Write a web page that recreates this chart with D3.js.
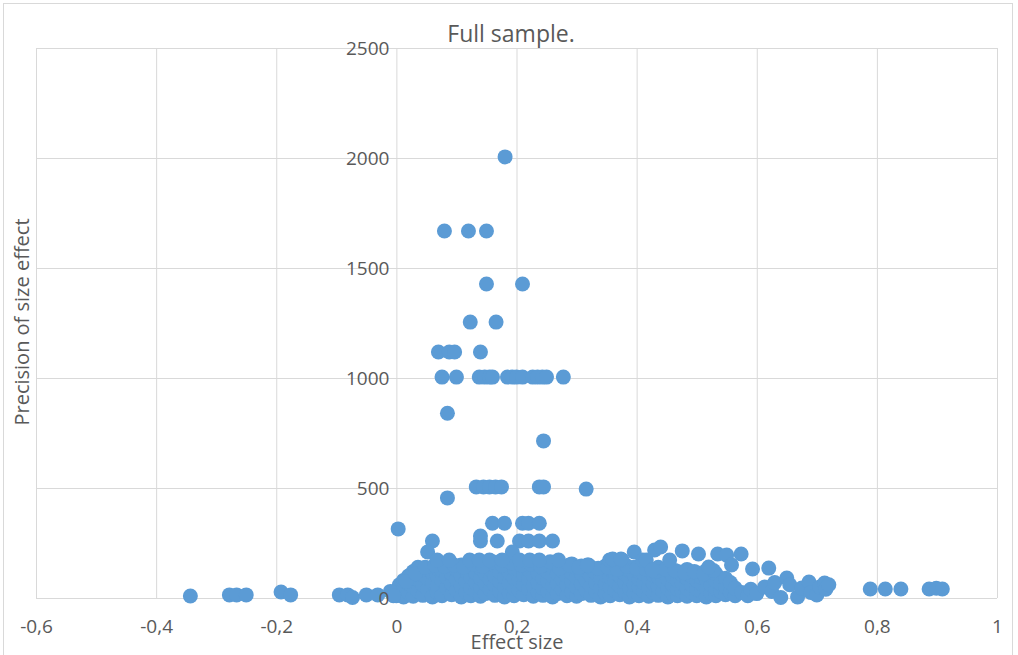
<!DOCTYPE html>
<html>
<head>
<meta charset="utf-8">
<script src="https://cdn.jsdelivr.net/npm/d3@7"></script>
<style>
  body { margin: 0; background: #fff; }
  svg { display: block; font-family: "Open Sans", sans-serif; }
</style>
</head>
<body>
<svg width="1018" height="655"></svg>
<script>
// Данные: точки с высокой точностью (разреженные, над основной массой)
const highX = [0.181, 0.080, 0.120, 0.150, 0.150, 0.210, 0.123, 0.166,
    0.070, 0.088, 0.097, 0.140,
    0.076, 0.100, 0.138, 0.147, 0.155, 0.160, 0.185, 0.193, 0.200, 0.210,
    0.227, 0.235, 0.243, 0.250, 0.278,
    0.085, 0.245,
    0.133, 0.145, 0.155, 0.165, 0.175, 0.238, 0.245, 0.316, 0.085];
const highY = [2005, 1668, 1668, 1668, 1427, 1427, 1254, 1254,
    1118, 1118, 1118, 1118,
    1004, 1004, 1004, 1004, 1004, 1004, 1004, 1004, 1004, 1004,
    1004, 1004, 1004, 1004, 1004,
    840, 714,
    505, 505, 505, 505, 505, 505, 505, 495, 455];

// Средний ярус (примерно 130-340)
const midX = [0.003, 0.160, 0.180, 0.210, 0.220, 0.238,
    0.060, 0.140, 0.168, 0.205, 0.220, 0.238, 0.260, 0.140,
    0.052, 0.193, 0.396, 0.430, 0.440, 0.476, 0.503, 0.535, 0.550, 0.574,
    0.068, 0.088, 0.122, 0.138, 0.155, 0.176, 0.205, 0.222, 0.238, 0.270,
    0.318, 0.355, 0.376, 0.360, 0.374, 0.410, 0.416, 0.426, 0.455,
    0.520, 0.558, 0.593, 0.620];
const midY = [314, 340, 340, 340, 340, 340,
    259, 259, 259, 259, 259, 259, 259, 282,
    209, 209, 209, 218, 232, 214, 200, 200, 195, 200,
    173, 173, 173, 173, 173, 173, 173, 173, 173, 173,
    150, 173, 173, 177, 177, 173, 173, 127, 173,
    141, 150, 132, 136];

// Основная масса у нуля (0 .. 0.57)
const bandX = [
    0.000, 0.000, 0.005, 0.005, 0.012, 0.012, 0.012, 0.020, 0.020, 0.020,
    0.028, 0.028, 0.028, 0.036, 0.036, 0.036, 0.044, 0.044, 0.044,
    0.052, 0.052, 0.052, 0.060, 0.060, 0.060, 0.068, 0.068, 0.068, 0.068,
    0.076, 0.076, 0.076, 0.084, 0.084, 0.084, 0.092, 0.092, 0.092,
    0.100, 0.100, 0.100, 0.108, 0.108, 0.108, 0.108, 0.116, 0.116, 0.116,
    0.124, 0.124, 0.124, 0.124, 0.132, 0.132, 0.132, 0.132,
    0.140, 0.140, 0.140, 0.140, 0.148, 0.148, 0.148, 0.148,
    0.156, 0.156, 0.156, 0.164, 0.164, 0.164, 0.164,
    0.172, 0.172, 0.172, 0.172, 0.180, 0.180, 0.180, 0.180,
    0.188, 0.188, 0.188, 0.188, 0.196, 0.196, 0.196, 0.196,
    0.204, 0.204, 0.204, 0.204, 0.212, 0.212, 0.212, 0.212,
    0.220, 0.220, 0.220, 0.220, 0.228, 0.228, 0.228, 0.228,
    0.236, 0.236, 0.236, 0.236, 0.244, 0.244, 0.244, 0.244,
    0.252, 0.252, 0.252, 0.252, 0.260, 0.260, 0.260, 0.260,
    0.268, 0.268, 0.268, 0.268, 0.276, 0.276, 0.276,
    0.284, 0.284, 0.284, 0.284, 0.292, 0.292, 0.292, 0.292,
    0.300, 0.300, 0.300, 0.300, 0.308, 0.308, 0.308, 0.308,
    0.316, 0.316, 0.316, 0.324, 0.324, 0.324, 0.324,
    0.332, 0.332, 0.332, 0.340, 0.340, 0.340, 0.340,
    0.348, 0.348, 0.348, 0.348, 0.356, 0.356, 0.356, 0.356,
    0.364, 0.364, 0.364, 0.372, 0.372, 0.372, 0.372,
    0.380, 0.380, 0.380, 0.388, 0.388, 0.388, 0.388,
    0.396, 0.396, 0.396, 0.396, 0.404, 0.404, 0.404, 0.404,
    0.412, 0.412, 0.412, 0.412, 0.420, 0.420, 0.420, 0.420,
    0.428, 0.428, 0.428, 0.436, 0.436, 0.436, 0.436,
    0.444, 0.444, 0.444, 0.452, 0.452, 0.452, 0.452,
    0.460, 0.460, 0.460, 0.468, 0.468, 0.468, 0.468,
    0.476, 0.476, 0.476, 0.484, 0.484, 0.484, 0.484,
    0.492, 0.492, 0.492, 0.500, 0.500, 0.500, 0.500,
    0.508, 0.508, 0.508, 0.516, 0.516, 0.516, 0.516,
    0.524, 0.524, 0.524, 0.532, 0.532, 0.532, 0.532,
    0.540, 0.540, 0.548, 0.548, 0.548, 0.556, 0.556, 0.564, 0.564,
    0.016, 0.032, 0.048, 0.064, 0.080, 0.096, 0.112, 0.128, 0.144, 0.160,
    0.176, 0.192, 0.208, 0.224, 0.240, 0.256, 0.272, 0.288, 0.304, 0.320,
    0.336, 0.352, 0.368, 0.384, 0.400, 0.416, 0.432, 0.448, 0.464, 0.480,
    0.496, 0.512, 0.528];
const bandY = [
    10, 35, 60, 20, 5, 45, 80, 25, 65, 100,
    8, 50, 120, 30, 85, 140, 12, 60, 105,
    40, 90, 130, 5, 70, 115, 25, 55, 100, 135,
    10, 80, 125, 45, 95, 145, 15, 65, 110,
    35, 85, 130, 5, 55, 100, 150, 25, 75, 120,
    10, 45, 95, 140, 30, 70, 115, 160,
    8, 50, 90, 135, 20, 65, 110, 155,
    40, 85, 130, 12, 60, 100, 150,
    30, 75, 120, 165, 5, 50, 95, 140,
    22, 70, 115, 160, 10, 45, 90, 135,
    35, 80, 125, 170, 15, 60, 105, 150,
    40, 85, 130, 165, 8, 55, 100, 145,
    25, 70, 115, 160, 12, 45, 90, 135,
    30, 75, 120, 155, 5, 55, 100, 145,
    20, 65, 110, 150, 40, 85, 125,
    10, 60, 100, 140, 28, 75, 115, 155,
    8, 50, 95, 135, 20, 65, 110, 145,
    35, 80, 125, 12, 55, 100, 140,
    30, 70, 115, 5, 45, 90, 130,
    22, 65, 105, 145, 10, 50, 95, 130,
    35, 75, 115, 15, 55, 100, 135,
    30, 70, 110, 5, 45, 90, 125,
    20, 60, 105, 140, 10, 50, 85, 120,
    30, 70, 110, 150, 8, 45, 90, 130,
    25, 65, 105, 12, 50, 95, 140,
    30, 75, 115, 5, 45, 85, 125,
    20, 60, 100, 10, 40, 80, 120,
    28, 65, 105, 8, 45, 90, 130,
    25, 60, 100, 10, 40, 80, 115,
    30, 65, 95, 5, 45, 85, 125,
    20, 60, 100, 10, 40, 75, 110,
    30, 65, 15, 50, 90, 25, 70, 10, 45,
    75, 110, 140, 150, 145, 150, 140, 155, 145, 165,
    150, 160, 150, 155, 145, 165, 135, 150, 140, 150,
    135, 140, 130, 145, 135, 130, 120, 130, 125, 115,
    120, 110, 125];

// Правый хвост и отрицательные значения
const tailX = [0.575, 0.585, 0.590, 0.600, 0.613, 0.625, 0.630, 0.640, 0.650,
    0.655, 0.668, 0.675, 0.687, 0.690, 0.700, 0.705, 0.713, 0.715, 0.720,
    0.789, 0.814, 0.840, 0.887, 0.899, 0.909,
    -0.343, -0.278, -0.266, -0.250, -0.192, -0.176,
    -0.095, -0.081, -0.073, -0.050, -0.031, -0.010, -0.005];
const tailY = [25, 10, 40, 20, 50, 30, 70, 2, 91,
    60, 5, 45, 73, 25, 14, 50, 68, 40, 60,
    41, 41, 41, 41, 44, 41,
    9, 14, 14, 14, 27, 14,
    14, 14, 2, 14, 14, 30, 10];

const xTicks = [-0.6, -0.4, -0.2, 0, 0.2, 0.4, 0.6, 0.8, 1];
const yTicks = [0, 500, 1000, 1500, 2000, 2500];

const svg = d3.select("svg");
const area = { left: 36, right: 997, top: 48, bottom: 598 };
const textColor = "#595959";
const gridColor = "#d9d9d9";

// Рамка всей диаграммы
svg.append("rect")
    .attr("x", 3.5).attr("y", 3.5)
    .attr("width", 1009).attr("height", 670)
    .attr("fill", "none").attr("stroke", gridColor);

const scX = d3.scaleLinear().domain([-0.6, 1]).range([area.left, area.right]);
const scY = d3.scaleLinear().domain([0, 2500]).range([area.bottom, area.top]);

// Сетка
svg.append("g").selectAll("line.gx").data(xTicks).enter().append("line")
    .attr("x1", d => scX(d) + 0.5).attr("x2", d => scX(d) + 0.5)
    .attr("y1", area.top).attr("y2", area.bottom)
    .attr("stroke", gridColor);
svg.append("g").selectAll("line.gy").data(yTicks).enter().append("line")
    .attr("x1", area.left).attr("x2", area.right)
    .attr("y1", d => scY(d) + 0.5).attr("y2", d => scY(d) + 0.5)
    .attr("stroke", gridColor);

// Подписи оси X
const fmt = d => String(d).replace(".", ",");
const axisX = d3.axisBottom(scX).tickValues(xTicks).tickFormat(fmt).tickSize(0).tickPadding(22);
const gX = svg.append("g").attr("transform", `translate(0, ${area.bottom})`).call(axisX);
gX.select(".domain").remove();
gX.selectAll("text").attr("fill", textColor).style("font-size", "19px")
    .style("font-family", "'Open Sans', sans-serif");

// Точки
const points = [];
bandX.forEach((v, i) => points.push([v, bandY[i]]));
tailX.forEach((v, i) => points.push([v, tailY[i]]));
midX.forEach((v, i) => points.push([v, midY[i]]));
highX.forEach((v, i) => points.push([v, highY[i]]));

svg.append("g").selectAll("circle").data(points).enter().append("circle")
    .attr("cx", d => scX(d[0]))
    .attr("cy", d => scY(d[1]))
    .attr("r", 7.5)
    .attr("fill", "#5b9bd5");

// Подписи оси Y (ось проходит через x = 0, подписи поверх точек)
const axisY = d3.axisLeft(scY).tickValues(yTicks).tickFormat(d3.format("d")).tickSize(0).tickPadding(7);
const gY = svg.append("g").attr("transform", `translate(${scX(0)}, 0)`).call(axisY);
gY.select(".domain").remove();
gY.selectAll("text").attr("fill", textColor).style("font-size", "19px")
    .style("font-family", "'Open Sans', sans-serif");

// Заголовки
svg.append("text")
    .attr("x", 511).attr("y", 42)
    .attr("text-anchor", "middle")
    .attr("fill", textColor).style("font-size", "23px")
    .text("Full sample.");

svg.append("text")
    .attr("x", 517).attr("y", 649)
    .attr("text-anchor", "middle")
    .attr("fill", textColor).style("font-size", "20px")
    .text("Effect size");

svg.append("text")
    .attr("transform", "translate(29, 322) rotate(-90)")
    .attr("text-anchor", "middle")
    .attr("fill", textColor).style("font-size", "20px")
    .text("Precision of size effect");
</script>
</body>
</html>
